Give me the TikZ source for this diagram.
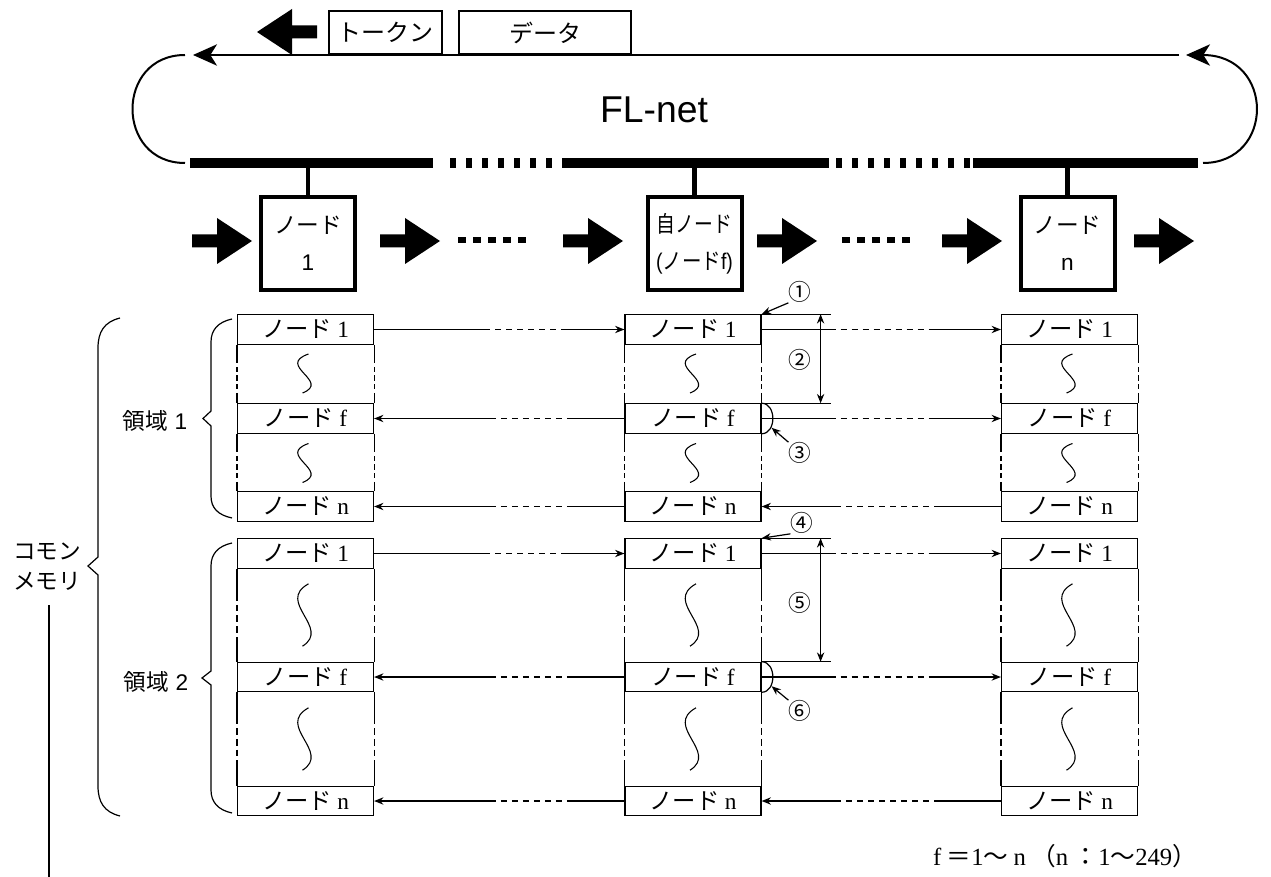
\documentclass[tikz,border=0pt]{standalone}
\usepackage{fontspec}
\setmainfont{Liberation Serif}
\newfontfamily\jpfont{Noto Sans CJK JP}
\newfontfamily\sansfont{Liberation Sans}
\usetikzlibrary{arrows.meta}
\newcommand\ndlab[1]{{\jpfont ノード}\hspace{4pt}{\rmfamily #1}}
\begin{document}
\begin{tikzpicture}[x=0.75pt,y=-0.75pt,
  memrow/.style={draw, line width=0.9pt, minimum width=102pt, minimum height=22pt, inner sep=0pt, font=\fontsize{17.5}{17.5}\selectfont},
  nodebox/.style={draw, line width=3pt, minimum width=70.5pt, minimum height=69.75pt, inner sep=0pt, align=center, font=\fontsize{17}{28}\selectfont},
  topbox/.style={draw, line width=1.5pt, minimum height=32.25pt, inner sep=0pt, font=\jpfont\fontsize{18}{18}\selectfont},
  conn/.style={line width=0.9pt},
  tipf/.style={-{Stealth[length=7pt,width=5.5pt]}},
  tipr/.style={{Stealth[length=7pt,width=5.5pt]}-},
  dbl/.style={{Stealth[length=7pt,width=5.5pt]}-{Stealth[length=7pt,width=5.5pt]}},
  circ/.style={inner sep=0pt, font=\jpfont\fontsize{17}{17}\selectfont},
  lab/.style={inner sep=0pt, font=\jpfont\fontsize{17}{22.5}\selectfont, align=center},
  c12/.style={dash pattern=on 87pt off 3.75pt on 4.5pt off 3.75pt on 4.5pt off 3.75pt on 4.5pt off 3.75pt on 4.5pt off 3.75pt on 4.5pt off 3.75pt on 4.5pt off 3.75pt on 90pt},
  c23/.style={dash pattern=on 55.5pt off 3.75pt on 4.5pt off 3.75pt on 4.5pt off 3.75pt on 4.5pt off 3.75pt on 4.5pt off 3.75pt on 4.5pt off 3.75pt on 4.5pt off 3.75pt on 4.5pt off 3.75pt on 4.5pt off 3.75pt on 90pt},
  g1/.style={line width=0.9pt, dash pattern=on 14pt off 2.5pt on 4pt off 2.5pt on 4pt off 2.5pt on 4pt off 2.5pt on 40pt},
  g2/.style={line width=0.9pt, dash pattern=on 24pt off 3pt on 5pt off 3pt on 5pt off 3pt on 5pt off 3pt on 40pt},
  wave/.pic={\draw[line width=0.8pt] (3,-19.5) .. controls (-30,-8) and (26,8) .. (-3,19.5);},
  blockarrow/.pic={\fill (0,-6.5) -- (25,-6.5) -- (25,-23) -- (60,0) -- (25,23) -- (25,6.5) -- (0,6.5) -- cycle;},
  bus/.style={line width=7.5pt, line cap=butt},
  busdots/.style={line width=7.5pt, line cap=butt, dash pattern=on 4.5pt off 7.5pt},
  ring/.style={line width=1.5pt},
  bigtip/.style={-{Stealth[length=18pt,width=16pt,inset=5pt]}}
]
\useasboundingbox (0,0) rectangle (1271,877);

% ---- top: token / data ----
\pic[xscale=-1] at (317,32) {blockarrow};
\node[topbox, minimum width=84.75pt] (tok) at (385.5,32.5) {トークン};
\node[topbox, minimum width=129pt] (dat) at (545,32.5) {データ};

% ---- ring ----
\coordinate (tlR) at (1179,55);
\coordinate (tlL) at (193,55);
\draw[ring,bigtip] (tlR) -- (tlL);
\coordinate (lcT) at (185,55);
\coordinate (lcB) at (185,163);
\draw[ring] (lcT) .. controls (115,55) and (115,163) .. (lcB);
\coordinate (rcB) at (1203,163);
\coordinate (rcT) at (1186,55);
\draw[ring,bigtip] (rcB) .. controls (1275,163) and (1275,55) .. (rcT);
\node[inner sep=0pt, font=\sansfont\fontsize{28}{28}\selectfont] (fl) at (654,110) {FL-net};

% ---- bus ----
\draw[bus] (190,163) -- (433,163);
\draw[busdots] (450,163) -- (553,163);
\draw[bus] (562,163) -- (829,163);
\draw[busdots] (836,163) -- (970,163);
\draw[bus] (973,163) -- (1198,163);

% ---- nodes ----
\node[nodebox] (nb1) at (308,243.5) {{\jpfont ノード}\\{\sansfont 1}};
\node[nodebox] (nbf) at (694.5,243.5) {\scalebox{0.83}[1]{\jpfont 自ノード}\\\scalebox{0.86}[1]{{\sansfont (}{\jpfont ノード}{\sansfont f)}}};
\node[nodebox] (nbn) at (1067.5,243.5) {{\jpfont ノード}\\{\sansfont n}};
\foreach \n in {nb1,nbf,nbn} \draw[line width=3.4pt] (\n.north) -- (\n.north |- 0,163);

\foreach \x in {192,380,563,757,942,1134} \pic at (\x,241) {blockarrow};
\draw[line width=4.5pt, dash pattern=on 6pt off 5.25pt] (458,240) -- (530,240);
\draw[line width=4.5pt, dash pattern=on 6pt off 5.25pt] (842,240) -- (915,240);

% ---- memory columns ----
\foreach \c/\x in {1/305.5,2/693,3/1069.5} {
  \node[memrow] (c\c a) at (\x,329.5) {\ndlab{1}};
  \node[memrow] (c\c b) at (\x,418.5) {\ndlab{f}};
  \node[memrow] (c\c c) at (\x,506.5) {\ndlab{n}};
  \node[memrow] (c\c d) at (\x,553.5) {\ndlab{1}};
  \node[memrow] (c\c e) at (\x,677) {\ndlab{f}};
  \node[memrow] (c\c f) at (\x,801) {\ndlab{n}};
  \draw[g1] (c\c a.south west) -- (c\c b.north west);
  \draw[g1] (c\c a.south east) -- (c\c b.north east);
  \draw[g1] (c\c b.south west) -- (c\c c.north west);
  \draw[g1] (c\c b.south east) -- (c\c c.north east);
  \draw[g2] (c\c d.south west) -- (c\c e.north west);
  \draw[g2] (c\c d.south east) -- (c\c e.north east);
  \draw[g2] (c\c e.south west) -- (c\c f.north west);
  \draw[g2] (c\c e.south east) -- (c\c f.north east);
  \pic at (\x,373.5) {wave};
  \pic at (\x,463) {wave};
  \pic[yscale=1.6] at (\x,615) {wave};
  \pic[yscale=1.6] at (\x,739) {wave};
}

% ---- connectors ----
\foreach \r in {a,d} {
  \draw[conn,c12,tipf] (c1\r.east) -- (c2\r.west);
  \draw[conn,c23,tipf] (c2\r.east) -- (c3\r.west);
}
\foreach \r in {b,e} {
  \draw[conn,c12,tipr] (c1\r.east) -- (c2\r.west);
  \draw[conn,c23,tipf] (c2\r.east) -- (c3\r.west);
}
\foreach \r in {c,f} {
  \draw[conn,c12,tipr] (c1\r.east) -- (c2\r.west);
  \draw[conn,c23,tipr] (c2\r.east) -- (c3\r.west);
}

% ---- annotations ----
\draw[conn] (c2a.north east) -- ++(69,0);
\draw[conn] (c2b.north east) -- ++(69,0);
\path (c2a.north east) ++(59,0) coordinate (d1t);
\path (c2b.north east) ++(59,0) coordinate (d1b);
\draw[conn,dbl] (d1t) -- (d1b);
\draw[conn] (c2b.north east) .. controls +(15,0) and +(15,0) .. (c2b.south east);
\path (c2b.south east) ++(10,-6) coordinate (arc1);

\draw[conn] (c2d.north east) -- ++(69,0);
\draw[conn] (c2e.north east) -- ++(69,0);
\path (c2d.north east) ++(59,0) coordinate (d2t);
\path (c2e.north east) ++(59,0) coordinate (d2b);
\draw[conn,dbl] (d2t) -- (d2b);
\draw[conn] (c2e.north east) .. controls +(15,0) and +(15,0) .. (c2e.south east);
\path (c2e.south east) ++(10,-6) coordinate (arc2);

\node[circ] (m1) at (800,292) {①};
\node[circ] (m2) at (800,360) {②};
\node[circ] (m3) at (800,453) {③};
\node[circ] (m4) at (802,523) {④};
\node[circ] (m5) at (800,603) {⑤};
\node[circ] (m6) at (800,711) {⑥};
\draw[conn,tipf] (m1.south west) -- (c2a.north east);
\draw[conn,tipf] (m3.north west) -- (arc1);
\draw[conn,tipf] (m4.south west) -- (c2d.north east);
\draw[conn,tipf] (m6.north west) -- (arc2);

% ---- braces and labels ----
\draw[line width=0.9pt] (120,318) .. controls (104,322) and (98,332) .. (98,348) -- (98,557) -- (88,566) -- (98,575) -- (98,786) .. controls (98,802) and (104,812) .. (120,816);
\draw[line width=0.9pt] (232,319) .. controls (218,322) and (211,330) .. (211,342) -- (211,411) -- (203,418.5) -- (211,426) -- (211,496) .. controls (211,508) and (218,515) .. (232,518);
\draw[line width=0.9pt] (232,543) .. controls (218,546) and (211,554) .. (211,566) -- (211,671) -- (202,678) -- (211,685) -- (211,790) .. controls (211,802) and (218,810) .. (232,813);
\node[lab] (reg1) at (155,421) {領域\hspace{5pt}{\sansfont 1}};
\node[lab] (reg2) at (156,682) {領域\hspace{5pt}{\sansfont 2}};
\node[lab] (cm) at (47,567) {コモン\\メモリ};
\coordinate (vlT) at (49,605);
\coordinate (vlB) at (49,877);
\draw[line width=0.9pt] (vlT) -- (vlB);

\node[inner sep=0pt, font=\fontsize{18.5}{18.5}\selectfont] (note) at (1065,856) {f\hspace{4pt}{\jpfont ＝}1{\jpfont 〜}\hspace{4pt}n\hspace{4pt}{\jpfont （}n\hspace{4pt}{\jpfont ：}1{\jpfont 〜}249{\jpfont ）}};
\end{tikzpicture}
\end{document}
